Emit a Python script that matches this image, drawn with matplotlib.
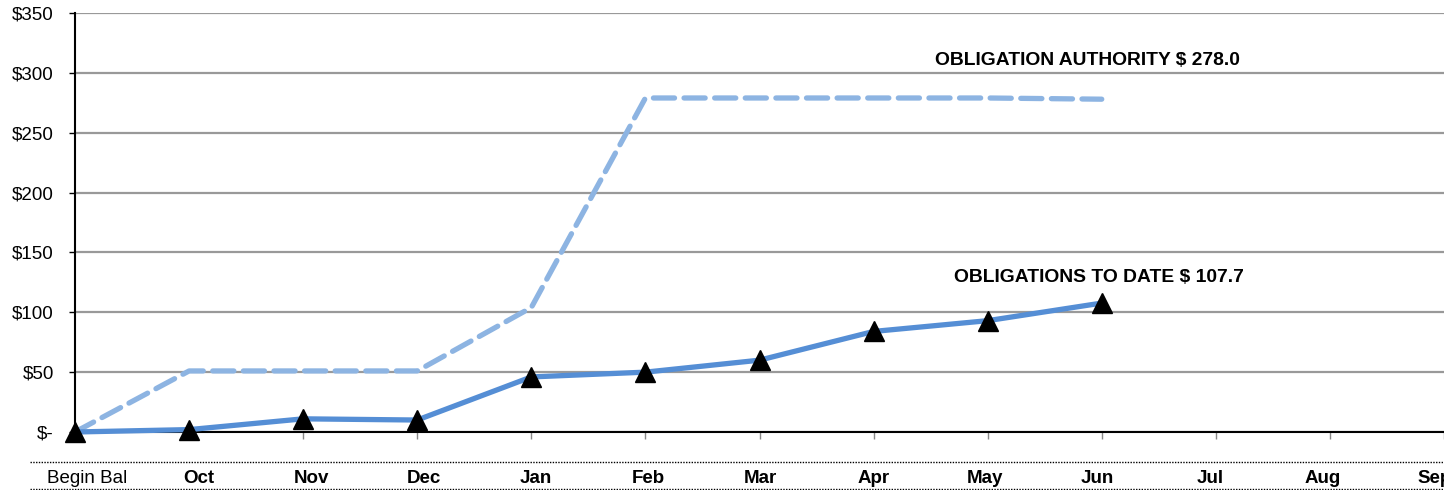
import matplotlib
matplotlib.use("Agg")
import matplotlib.pyplot as plt
from matplotlib.lines import Line2D

plt.rcParams['font.family'] = ['Liberation Sans', 'DejaVu Sans']

# data ($ millions)
months = ["Begin Bal", "Oct", "Nov", "Dec", "Jan", "Feb", "Mar",
          "Apr", "May", "Jun", "Jul", "Aug", "Sep"]
authority = [0, 51, 51, 51, 104, 279, 279, 279, 279, 278.0]
obligations = [0, 2, 11, 10, 46, 50, 60, 84, 93, 107.7]
y_ticks = [0, 50, 100, 150, 200, 250, 300, 350]

W, H = 1444, 490
fig = plt.figure(figsize=(W / 100, H / 100), dpi=100)
step = 114.35
ax = fig.add_axes([75 / W, 58 / H, (W - 75) / W, 419 / H])

x = list(range(len(months)))
ax.plot(x[:len(authority)], authority, color="#8DB4E2", lw=3.8,
        dashes=(4, 1.8), solid_capstyle="round", dash_capstyle="round",
        zorder=3, clip_on=False)
ax.plot(x[:len(obligations)], obligations, color="#558ED5", lw=3.8,
        marker="^", markersize=14, markerfacecolor="black",
        markeredgecolor="black", zorder=4, clip_on=False)

ax.set_xlim(0, (W - 75) / step)
ax.set_ylim(0, 350)
ax.set_yticks(y_ticks)
ax.set_yticklabels(["$-" if v == 0 else f"${v}" for v in y_ticks], fontsize=13.5)
ax.set_xticks(x)
ax.set_xticklabels([])
ax.tick_params(axis="x", length=5, color="#888888", width=1)
ax.tick_params(axis="y", length=4.3, color="black", width=1, pad=11)
ax.grid(axis="y", color="#999999", lw=1.6)
ax.set_axisbelow(True)
for s in ["top", "right"]:
    ax.spines[s].set_visible(False)
ax.spines["left"].set_linewidth(1.5)
ax.spines["bottom"].set_linewidth(1.5)

# month labels in the table row below the axis (slightly narrower spacing)
for i, m in enumerate(months):
    fig.text((87 + i * 112.3) / W, 1 - 478 / H, m, ha="center",
             va="center", fontsize=13.5,
             fontweight="normal" if i == 0 else "bold")

for yy in (462, 489):
    fig.add_artist(Line2D([30 / W, 1], [1 - yy / H, 1 - yy / H],
                          color="black", lw=1, linestyle=(0, (1, 1))))

ax.text((1090 - 75) / step, 310, "OBLIGATION AUTHORITY $ 278.0",
        ha="center", va="center", fontsize=13.9, fontweight="bold")
ax.text((1101 - 75) / step, 128.7, "OBLIGATIONS TO DATE $ 107.7",
        ha="center", va="center", fontsize=13.9, fontweight="bold")

fig.savefig("out.png", dpi=100)
